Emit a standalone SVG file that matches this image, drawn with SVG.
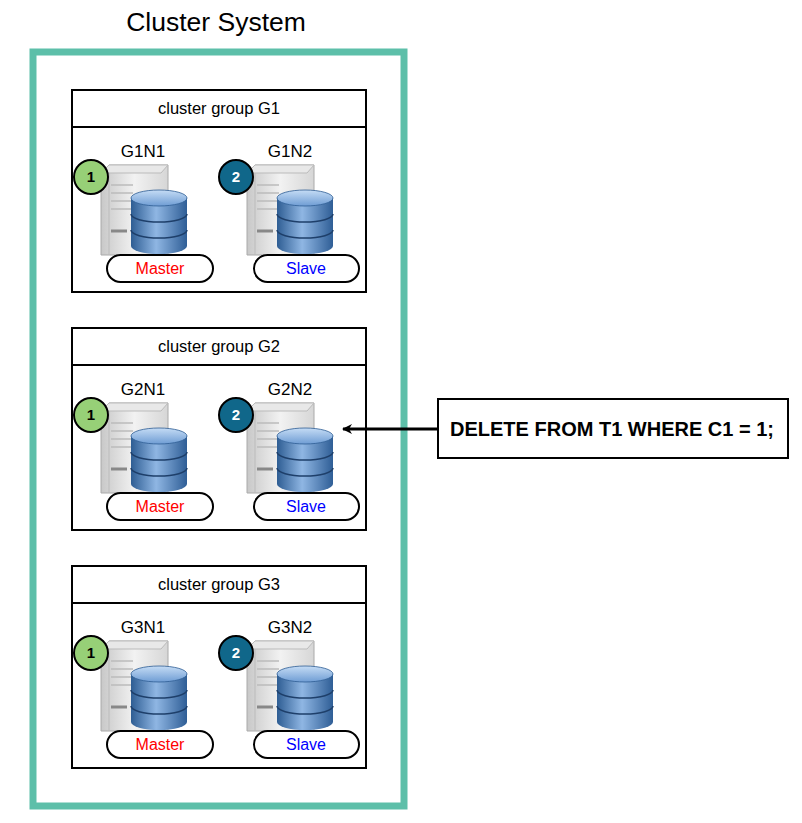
<svg xmlns="http://www.w3.org/2000/svg" width="802" height="823" viewBox="0 0 802 823">
<style>
text{font-family:"Liberation Sans",Arial,sans-serif}
.box{fill:#fff;stroke:#000;stroke-width:2}
.gt{font-size:16.5px;text-anchor:middle}
.nl{font-size:17px;text-anchor:middle}
.pill{fill:#fff;stroke:#000;stroke-width:2}
.role{font-size:16px;text-anchor:middle}
.c1{fill:#97d077;stroke:#000;stroke-width:2}
.c2{fill:#10678a;stroke:#000;stroke-width:2}
</style>
<defs>
<linearGradient id="srv" x1="0" y1="0" x2="1" y2="0"><stop offset="0" stop-color="#c8c8c8"/><stop offset="0.5" stop-color="#f2f2f2"/><stop offset="1" stop-color="#d6d6d6"/></linearGradient>
<linearGradient id="db" x1="0" y1="0" x2="1" y2="0"><stop offset="0" stop-color="#2e5d93"/><stop offset="0.45" stop-color="#8fb6e3"/><stop offset="1" stop-color="#2f5e96"/></linearGradient>
<linearGradient id="dbt" x1="0" y1="0" x2="0" y2="1"><stop offset="0" stop-color="#c5dcf5"/><stop offset="1" stop-color="#6f9dd4"/></linearGradient>
<marker id="ah" markerWidth="10" markerHeight="10" refX="9" refY="5" orient="auto" markerUnits="userSpaceOnUse"><path d="M0,0 L10,5 L0,10 L3,5 z" fill="#000"/></marker>
<g id="node">
<path d="M-30,2 L-22,-6 L37,-6 L37,84 L-30,84 z" fill="url(#srv)" stroke="#aaa"/>
<path d="M-30,2 L-22,-6 L37,-6 L30,2 z" fill="#e8e8e8" stroke="#bbb"/>
<line x1="-22" y1="2" x2="-22" y2="84" stroke="#bbb"/>
<g stroke="#bbb" stroke-width="1.5"><line x1="-20" y1="14" x2="2" y2="14"/><line x1="-20" y1="22" x2="2" y2="22"/><line x1="-20" y1="30" x2="2" y2="30"/><line x1="-20" y1="38" x2="2" y2="38"/><line x1="-20" y1="60" x2="-4" y2="60" stroke="#888" stroke-width="3"/></g>
<path d="M0,27 L0,75 A28,8 0 0 0 56,75 L56,27 z" fill="url(#db)"/>
<ellipse cx="28" cy="27" rx="28" ry="8" fill="url(#dbt)" stroke="#2e5d93" stroke-width="0.8"/>
<path d="M0,43 A28,8 0 0 0 56,43 M0,59 A28,8 0 0 0 56,59" fill="none" stroke="#1e3f6a" stroke-width="1.5"/>
</g>
</defs>
<text x="216" y="31" font-size="26.5" text-anchor="middle">Cluster System</text>
<rect x="33" y="52" width="371" height="754" fill="none" stroke="#5dbfa9" stroke-width="7"/>
<g id="G1">
<rect class="box" x="72" y="90" width="294" height="202"/><line x1="72" y1="127" x2="366" y2="127" stroke="#000" stroke-width="2"/>
<text class="gt" x="219" y="114">cluster group G1</text>
<g id="G1N1"><use href="#node" x="131" y="171"/><text class="nl" x="143" y="157">G1N1</text><circle class="c1" cx="91" cy="177" r="17"/><text x="91" y="182" font-size="15" font-weight="bold" text-anchor="middle">1</text><rect class="pill" x="107" y="255" width="106" height="27" rx="13.5"/><text class="role" x="160" y="274" fill="#f00">Master</text></g>
<g id="G1N2"><use href="#node" x="277" y="171"/><text class="nl" x="290" y="157">G1N2</text><circle class="c2" cx="236" cy="177" r="17"/><text x="236" y="182" font-size="15" font-weight="bold" fill="#fff" text-anchor="middle">2</text><rect class="pill" x="254" y="255" width="105" height="27" rx="13.5"/><text class="role" x="306" y="274" fill="#00f">Slave</text></g>
</g>
<g id="G2" transform="translate(0,238)">
<rect class="box" x="72" y="90" width="294" height="202"/><line x1="72" y1="127" x2="366" y2="127" stroke="#000" stroke-width="2"/>
<text class="gt" x="219" y="114">cluster group G2</text>
<g id="G2N1"><use href="#node" x="131" y="171"/><text class="nl" x="143" y="157">G2N1</text><circle class="c1" cx="91" cy="177" r="17"/><text x="91" y="182" font-size="15" font-weight="bold" text-anchor="middle">1</text><rect class="pill" x="107" y="255" width="106" height="27" rx="13.5"/><text class="role" x="160" y="274" fill="#f00">Master</text></g>
<g id="G2N2"><use href="#node" x="277" y="171"/><text class="nl" x="290" y="157">G2N2</text><circle class="c2" cx="236" cy="177" r="17"/><text x="236" y="182" font-size="15" font-weight="bold" fill="#fff" text-anchor="middle">2</text><rect class="pill" x="254" y="255" width="105" height="27" rx="13.5"/><text class="role" x="306" y="274" fill="#00f">Slave</text></g>
</g>
<g id="G3" transform="translate(0,476)">
<rect class="box" x="72" y="90" width="294" height="202"/><line x1="72" y1="127" x2="366" y2="127" stroke="#000" stroke-width="2"/>
<text class="gt" x="219" y="114">cluster group G3</text>
<g id="G3N1"><use href="#node" x="131" y="171"/><text class="nl" x="143" y="157">G3N1</text><circle class="c1" cx="91" cy="177" r="17"/><text x="91" y="182" font-size="15" font-weight="bold" text-anchor="middle">1</text><rect class="pill" x="107" y="255" width="106" height="27" rx="13.5"/><text class="role" x="160" y="274" fill="#f00">Master</text></g>
<g id="G3N2"><use href="#node" x="277" y="171"/><text class="nl" x="290" y="157">G3N2</text><circle class="c2" cx="236" cy="177" r="17"/><text x="236" y="182" font-size="15" font-weight="bold" fill="#fff" text-anchor="middle">2</text><rect class="pill" x="254" y="255" width="105" height="27" rx="13.5"/><text class="role" x="306" y="274" fill="#00f">Slave</text></g>
</g>
<g id="query"><rect class="box" x="438" y="399" width="350" height="59"/><text x="612" y="436" font-size="20" font-weight="bold" text-anchor="middle">DELETE FROM T1 WHERE C1 = 1;</text></g>
<g id="connectors"><line x1="437" y1="429" x2="343" y2="429" stroke="#000" stroke-width="3" marker-end="url(#ah)"/></g>
</svg>
